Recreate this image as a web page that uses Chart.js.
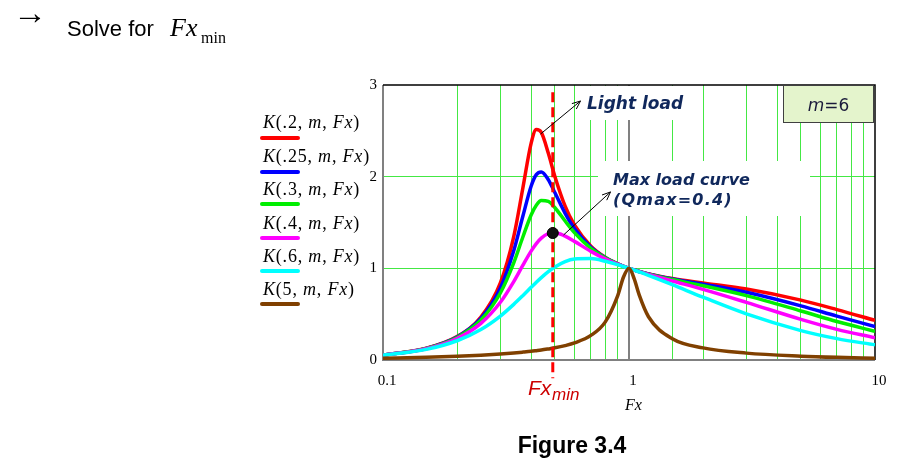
<!DOCTYPE html>
<html>
<head>
<meta charset="utf-8">
<script src="https://cdn.jsdelivr.net/npm/chart.js@4.4.0/dist/chart.umd.min.js"></script>
<style>
  html, body { margin: 0; padding: 0; background: #fff; }
  #page { position: relative; width: 905px; height: 462px; overflow: hidden; }
  #wrap { position: absolute; left: 0; top: 0; width: 905px; height: 462px; }
  .t { position: absolute; white-space: nowrap; line-height: 1; }
  .serif { font-family: "Liberation Serif", "DejaVu Serif", serif; }
  .sans { font-family: "Liberation Sans", Arial, sans-serif; }
  .note { font-family: "DejaVu Sans", Verdana, sans-serif; font-weight: bold; font-style: italic; color: #10285c; }
  .leg { position: absolute; left: 260px; width: 40px; height: 4px; border-radius: 2px; }
  #mbox { position: absolute; left: 783px; top: 85px; width: 91px; height: 38px; background: #e4f4cc;
          border: 1px solid #404040; box-sizing: border-box; }
</style>
</head>
<body>
<div id="page">
  <div id="wrap"><canvas id="gainChart"></canvas></div>

  <!-- heading -->
  <div class="t sans" style="left:13px; top:-5px; font-size:34px;">&rarr;</div>
  <div class="t sans" style="left:67px; top:18px; font-size:22px;">Solve for</div>
  <div class="t serif" style="left:170px; top:15px; font-size:26px; font-style:italic;">Fx</div>
  <div class="t serif" style="left:201px; top:30px; font-size:16px;">min</div>

  <!-- legend -->
  <div class="t serif" style="left:263px; top:113px; font-size:18px; letter-spacing:0.8px;"><i>K</i>(.2, <i>m</i>, <i>Fx</i>)</div>
  <div class="leg" style="top:136px; background:#ff0000;"></div>
  <div class="t serif" style="left:263px; top:147px; font-size:18px; letter-spacing:0.8px;"><i>K</i>(.25, <i>m</i>, <i>Fx</i>)</div>
  <div class="leg" style="top:170px; background:#0000ff;"></div>
  <div class="t serif" style="left:263px; top:180px; font-size:18px; letter-spacing:0.8px;"><i>K</i>(.3, <i>m</i>, <i>Fx</i>)</div>
  <div class="leg" style="top:202px; background:#00ee00;"></div>
  <div class="t serif" style="left:263px; top:214px; font-size:18px; letter-spacing:0.8px;"><i>K</i>(.4, <i>m</i>, <i>Fx</i>)</div>
  <div class="leg" style="top:236px; background:#ff00ff;"></div>
  <div class="t serif" style="left:263px; top:247px; font-size:18px; letter-spacing:0.8px;"><i>K</i>(.6, <i>m</i>, <i>Fx</i>)</div>
  <div class="leg" style="top:269px; background:#00ffff;"></div>
  <div class="t serif" style="left:263px; top:280px; font-size:18px; letter-spacing:0.8px;"><i>K</i>(5, <i>m</i>, <i>Fx</i>)</div>
  <div class="leg" style="top:302px; background:#804000;"></div>

  <!-- notes inside the plot -->
  <div class="t note" style="left:587px; top:95px; font-size:17px;">Light load</div>
  <div class="t note" style="left:613px; top:172px; font-size:16px;">Max load curve</div>
  <div class="t note" style="left:613px; top:192px; font-size:16px; letter-spacing:1.2px;">(Qmax=0.4)</div>
  <div id="mbox"></div>
  <div class="t" style="left:783px; width:91px; text-align:center; top:97px; font-size:17px; font-family:'DejaVu Sans', sans-serif; color:#1a1a3a;"><i>m</i>=6</div>

  <!-- axis texts -->
  <div class="t sans" style="left:528px; top:377px; font-size:21px; font-style:italic; color:#cc0000;">Fx</div>
  <div class="t sans" style="left:552px; top:386px; font-size:17px; font-style:italic; color:#cc0000;">min</div>
  <div class="t serif" style="left:625px; top:397px; font-size:16px; font-style:italic;">Fx</div>
  <div class="t sans" style="left:472px; width:200px; text-align:center; top:434px; font-size:23px; font-weight:bold;">Figure 3.4</div>
</div>

<script>
// normalized frequency Fx (log axis)
const fx = [0.1, 0.15, 0.2, 0.25, 0.3, 0.34, 0.37, 0.4, 0.42, 0.44, 0.47, 0.5, 0.55, 0.6,
            0.7, 0.8, 0.9, 0.95, 1, 1.05, 1.1, 1.2, 1.5, 2, 3, 5, 7, 10]

// gain K(Q, m=6, Fx)
const kQ02 = [0.053, 0.128, 0.255, 0.468, 0.841, 1.346, 1.871, 2.364, 2.514, 2.483, 2.255, 2.000, 1.679, 1.473,
              1.242, 1.121, 1.048, 1.022, 1, 0.982, 0.966, 0.940, 0.890, 0.841, 0.774, 0.653, 0.550, 0.432]
const kQ025 = [0.053, 0.127, 0.251, 0.453, 0.786, 1.192, 1.565, 1.896, 2.022, 2.051, 1.967, 1.824, 1.600, 1.434,
               1.231, 1.118, 1.048, 1.022, 1, 0.982, 0.965, 0.939, 0.885, 0.827, 0.739, 0.591, 0.478, 0.364]
const kQ03 = [0.053, 0.126, 0.246, 0.436, 0.731, 1.060, 1.339, 1.582, 1.689, 1.740, 1.730, 1.661, 1.516, 1.390,
              1.217, 1.114, 1.047, 1.022, 1, 0.981, 0.965, 0.937, 0.878, 0.810, 0.702, 0.535, 0.420, 0.312]
const kQ04 = [0.052, 0.123, 0.235, 0.400, 0.630, 0.856, 1.032, 1.188, 1.270, 1.330, 1.378, 1.387, 1.351, 1.294,
              1.185, 1.104, 1.045, 1.021, 1, 0.981, 0.964, 0.934, 0.862, 0.771, 0.629, 0.443, 0.334, 0.242]
const kQ06 = [0.051, 0.116, 0.210, 0.332, 0.479, 0.607, 0.702, 0.793, 0.849, 0.899, 0.964, 1.015, 1.073, 1.101,
              1.106, 1.078, 1.040, 1.020, 1, 0.980, 0.961, 0.923, 0.821, 0.685, 0.503, 0.321, 0.233, 0.165]
const kQ5 = [0.019, 0.030, 0.041, 0.053, 0.066, 0.077, 0.086, 0.095, 0.102, 0.109, 0.121, 0.133, 0.157, 0.186,
             0.268, 0.413, 0.703, 0.905, 1, 0.885, 0.710, 0.472, 0.232, 0.132, 0.075, 0.042, 0.029, 0.020]

// Fx_min marker (on the Q=0.4 curve)
const fxMin = 0.49
const kAtFxMin = 1.385
const dashTop = 2.92
const dashBottom = -0.2

const xTickLabels = [0.1, 1, 10]
const yTicks = [0, 1, 2, 3]

const GRID_GREEN = "#44e844"

function pts(values) {
  return fx.map((x, i) => ({ x: x, y: values[i] }))
}

function curve(values, color, order) {
  return {
    data: pts(values),
    borderColor: color,
    borderWidth: 3.5,
    pointRadius: 0,
    cubicInterpolationMode: "monotone",
    order: order,
  }
}

function near(a, b) {
  return Math.abs(a - b) < 1e-6 * Math.max(1, Math.abs(b))
}

// white label areas, frame and arrows
const overlayPlugin = {
  id: "overlay",
  beforeDatasetsDraw(chart) {
    const ctx = chart.ctx
    const a = chart.chartArea
    ctx.save()
    ctx.fillStyle = "#ffffff"
    ctx.fillRect(578, a.top + 1, 120, 34)
    ctx.fillRect(598, 161, 212, 55)

    ctx.lineWidth = 2
    ctx.strokeStyle = "#808080"
    ctx.beginPath()
    ctx.moveTo(a.left, a.top)
    ctx.lineTo(a.left, a.bottom)
    ctx.lineTo(a.right, a.bottom)
    ctx.stroke()
    ctx.lineWidth = 1.5
    ctx.strokeStyle = "#000000"
    ctx.beginPath()
    ctx.moveTo(a.left, a.top)
    ctx.lineTo(a.right, a.top)
    ctx.lineTo(a.right, a.bottom)
    ctx.stroke()
    ctx.restore()
  },
  afterDatasetsDraw(chart) {
    const ctx = chart.ctx
    const xs = chart.scales.x
    const ys = chart.scales.y
    const arrow = (x1, y1, x2, y2) => {
      const p1 = [xs.getPixelForValue(x1), ys.getPixelForValue(y1)]
      const p2 = [xs.getPixelForValue(x2), ys.getPixelForValue(y2)]
      const ang = Math.atan2(p2[1] - p1[1], p2[0] - p1[0])
      ctx.save()
      ctx.strokeStyle = "#000000"
      ctx.lineWidth = 1
      ctx.beginPath()
      ctx.moveTo(p1[0], p1[1])
      ctx.lineTo(p2[0], p2[1])
      ctx.moveTo(p2[0] - 9 * Math.cos(ang - 0.4), p2[1] - 9 * Math.sin(ang - 0.4))
      ctx.lineTo(p2[0], p2[1])
      ctx.lineTo(p2[0] - 9 * Math.cos(ang + 0.4), p2[1] - 9 * Math.sin(ang + 0.4))
      ctx.stroke()
      ctx.restore()
    }
    arrow(0.437, 2.465, 0.635, 2.825)
    arrow(0.542, 1.364, 0.841, 1.833)
  },
}

Chart.defaults.font.family = "'Liberation Serif', 'DejaVu Serif', serif"
Chart.defaults.color = "#000000"

new Chart(document.getElementById("gainChart"), {
  type: "line",
  data: {
    datasets: [
      curve(kQ02, "#ff0000", 10),
      curve(kQ025, "#0000ff", 9),
      curve(kQ03, "#00ee00", 8),
      curve(kQ04, "#ff00ff", 7),
      curve(kQ06, "#00ffff", 6),
      curve(kQ5, "#804000", 5),
      {
        data: [{ x: fxMin, y: dashTop }, { x: fxMin, y: dashBottom }],
        borderColor: "#ff0000",
        borderWidth: 3,
        borderDash: [10, 5],
        pointRadius: 0,
        clip: false,
        order: 1,
      },
      {
        type: "scatter",
        data: [{ x: fxMin, y: kAtFxMin }],
        pointRadius: 5.5,
        pointBackgroundColor: "#111111",
        pointBorderColor: "#000000",
        order: 0,
      },
    ],
  },
  options: {
    responsive: true,
    maintainAspectRatio: false,
    animation: false,
    events: [],
    layout: { padding: { left: 0, top: 85, right: 30, bottom: 0 } },
    plugins: { legend: { display: false }, tooltip: { enabled: false } },
    scales: {
      x: {
        type: "logarithmic",
        min: 0.1,
        max: 10,
        afterFit: (s) => { s.height = 102 },
        border: { display: false },
        grid: {
          drawTicks: false,
          color: (c) => {
            const v = c.tick ? c.tick.value : 0
            if (near(v, 0.1) || near(v, 10)) return "rgba(0,0,0,0)"
            if (near(v, 1)) return "#808080"
            return GRID_GREEN
          },
          lineWidth: (c) => (c.tick && near(c.tick.value, 1) ? 2 : 1),
        },
        ticks: {
          autoSkip: false,
          maxRotation: 0,
          padding: 12,
          labelOffset: 4,
          font: { size: 15 },
          callback: (value) => {
            const hit = xTickLabels.find((t) => near(value, t))
            return hit !== undefined ? String(hit) : ""
          },
        },
      },
      y: {
        min: 0,
        max: 3,
        afterFit: (s) => { s.width = 383 },
        afterBuildTicks: (s) => { s.ticks = yTicks.map((v) => ({ value: v })) },
        border: { display: false },
        grid: {
          drawTicks: false,
          color: (c) => {
            const v = c.tick ? c.tick.value : 0
            return v === 1 || v === 2 ? GRID_GREEN : "rgba(0,0,0,0)"
          },
        },
        ticks: { padding: 6, font: { size: 15 } },
      },
    },
  },
  plugins: [overlayPlugin],
})
</script>
</body>
</html>
